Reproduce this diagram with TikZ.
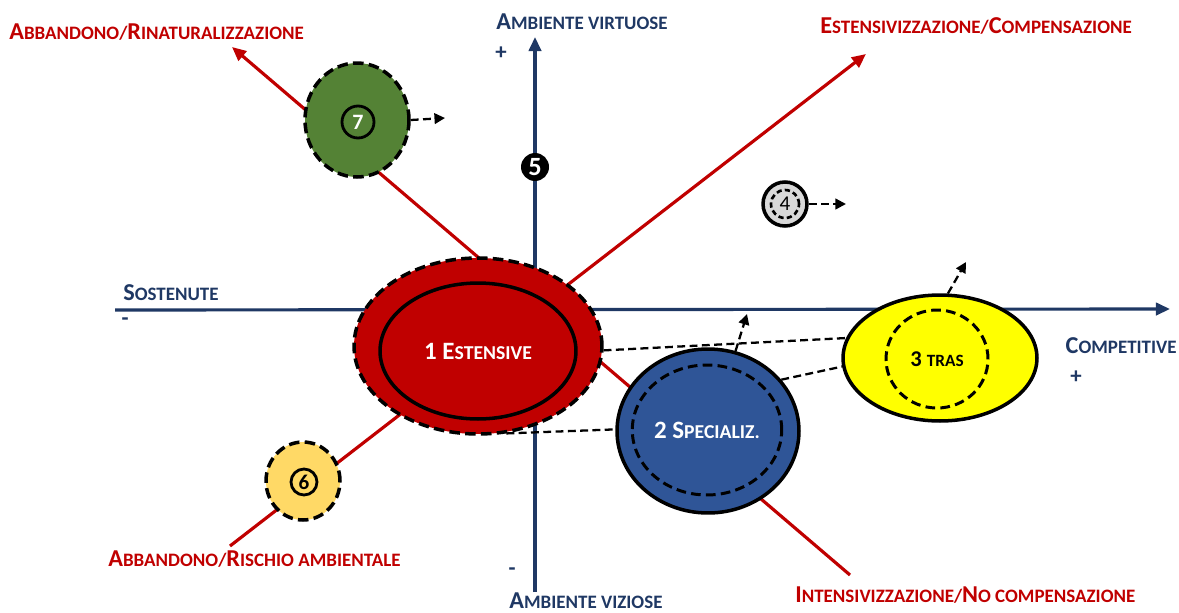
\documentclass[tikz,border=0pt]{standalone}
\usepackage{fontspec}
\setmainfont{Carlito}
\usetikzlibrary{arrows.meta,shapes.geometric}
\definecolor{axisblue}{HTML}{1F3864}
\definecolor{lred}{HTML}{C00000}
\definecolor{ell2}{HTML}{2F5597}
\definecolor{ell7}{HTML}{548235}
\definecolor{ell6}{HTML}{FFD966}
\definecolor{ell4}{HTML}{D9D9D9}
\definecolor{ell3}{HTML}{FFFF00}
\newcommand{\Bg}[1]{{\fontsize{13.8}{16}\selectfont #1}}
\newcommand{\Sm}[1]{{\fontsize{10.8}{13}\selectfont #1}}
\newcommand{\Bgi}[1]{{\fontsize{14.2}{16}\selectfont #1}}
\newcommand{\Smi}[1]{{\fontsize{11.2}{13}\selectfont #1}}
\tikzset{
  axisline/.style={draw=axisblue, line width=1.8pt, -{Triangle[length=8pt,width=7pt]}},
  redline/.style={draw=lred, line width=1.8pt},
  redarrow/.style={redline, -{Triangle[length=8pt,width=7pt]}},
  axlabel/.style={text=axisblue, font=\bfseries, inner sep=0pt, anchor=base west},
  redlabel/.style={text=lred, font=\bfseries, inner sep=0pt, anchor=base west},
  sign/.style={text=axisblue, font=\bfseries\fontsize{13}{15}\selectfont, inner sep=0pt},
  blob/.style={ellipse, inner sep=0pt, line width=2pt},
  dashblob/.style={blob, draw=black, dash pattern=on 6pt off 3pt},
  solidblob/.style={blob, draw=black},
  innerdash/.style={ellipse, inner sep=0pt, draw=black, line width=1.7pt, dash pattern=on 5.5pt off 3pt},
  innersolid/.style={circle, inner sep=0pt, draw=black, line width=1.6pt},
  dashconn/.style={draw=black, line width=1.3pt, dash pattern=on 4.5pt off 2.5pt},
  dasharrow/.style={dashconn, -{Triangle[length=6pt,width=6pt]}},
}
\begin{document}
\begin{tikzpicture}[x=0.02cm,y=-0.02cm]
\useasboundingbox (0,0) rectangle (1179,612);
% axes
\coordinate (hx0) at (115,310);
\coordinate (hx1) at (1170,309);
\coordinate (vy0) at (535,592);
\coordinate (vy1) at (535,37);
\draw[axisline] (hx0) -- (hx1);
\draw[axisline] (vy0) -- (vy1);
% red lines
\coordinate (ra0) at (850,575);
\coordinate (ra1) at (232,47);
\coordinate (rb0) at (230,546);
\coordinate (rb1) at (866,54);
\draw[redarrow] (ra0) -- (ra1);
\draw[redarrow] (rb0) -- (rb1);
% axis labels
\node[axlabel] (lvirt) at (496,30) {\Bg{A}\Sm{MBIENTE VIRTUOSE}};
\node[sign] (pvirt) at (501,53) {+};
\node[axlabel] (lsost) at (123,300) {\Bg{S}\Sm{OSTENUTE}};
\node[sign] (msost) at (125,322) {-};
\node[axlabel, anchor=base east] (lcomp) at (1177,353) {\Bg{C}\Sm{OMPETITIVE}};
\node[sign] (pcomp) at (1076,377) {+};
\node[axlabel] (lviz) at (509,608) {\Bg{A}\Sm{MBIENTE VIZIOSE}};
\node[sign] (mviz) at (512,572) {-};
% red labels
\node[redlabel] (lrin) at (9,39) {\Bg{A}\Sm{BBANDONO/}\Bg{R}\Sm{INATURALIZZAZIONE}};
\node[redlabel] (lest) at (820,33) {\Bg{E}\Sm{STENSIVIZZAZIONE/}\Bg{C}\Sm{OMPENSAZIONE}};
\node[redlabel] (lris) at (108,566) {\Bg{A}\Sm{BBANDONO/}\Bg{R}\Sm{ISCHIO AMBIENTALE}};
\node[redlabel] (lint) at (795,602) {\Bg{I}\Sm{NTENSIVIZZAZIONE/}\Bg{N}\Sm{O COMPENSAZIONE}};
% ellipse 1
\node[dashblob, fill=lred, minimum width=4.96cm, minimum height=3.52cm] (e1o) at (478,346) {};
\node[ellipse, inner sep=0pt, draw=black, line width=2pt, minimum width=3.92cm, minimum height=2.72cm, text=white, font=\bfseries] (e1i) at (478,351) {\Bgi{1 E}\Smi{STENSIVE}};
% ellipse 2
\node[solidblob, fill=ell2, minimum width=3.64cm, minimum height=3.28cm] (e2o) at (708,431) {};
\node[innerdash, minimum width=2.68cm, minimum height=2.6cm, text=white, font=\bfseries] (e2i) at (707,430) {\Bgi{2 S}\Smi{PECIALIZ.}};
% ellipse 3
\node[solidblob, fill=ell3, minimum width=3.88cm, minimum height=2.52cm] (e3o) at (940,358) {};
\node[innerdash, minimum width=2.04cm, minimum height=1.96cm, font=\bfseries] (e3i) at (937,359) {{\fontsize{12.8}{14}\selectfont 3 }{\fontsize{9.8}{12}\selectfont TRAS}};
% circle 7
\node[dashblob, fill=ell7, minimum width=2.08cm, minimum height=2.28cm] (c7o) at (357,120) {};
\node[innersolid, minimum size=0.64cm, text=white, font=\bfseries\fontsize{12.5}{14}\selectfont] (c7i) at (358,122) {7};
% circle 4
\node[solidblob, fill=ell4, minimum width=0.88cm, minimum height=0.88cm] (c4o) at (785,204) {};
\node[innerdash, line width=1.5pt, dash pattern=on 3pt off 1.8pt, minimum width=0.56cm, minimum height=0.56cm, font=\fontsize{12}{13}\selectfont] (c4i) at (785,204) {4};
% circle 5
\node[circle, fill=black, inner sep=0pt, minimum size=0.56cm, text=white, font=\bfseries\fontsize{15}{16}\selectfont] (c5) at (535,167) {5};
% circle 6
\node[dashblob, fill=ell6, minimum width=1.48cm, minimum height=1.56cm] (c6o) at (303,481) {};
\node[innersolid, minimum size=0.52cm, font=\bfseries\fontsize{12}{13}\selectfont] (c6i) at (304,482) {6};
% dashed connectors
\draw[dashconn] (e1o.-2) -- (e3o.168);
\draw[dashconn] (e2o.35) -- (e3o.185);
\draw[dashconn] (e1o.-72) -- (e2o.179);
\coordinate (a2) at (747,314);
\coordinate (a3) at (966,262);
\coordinate (a7) at (445,118);
\coordinate (a4) at (846,204);
\draw[dasharrow] (e2o.71) -- (a2);
\draw[dasharrow] (e3o.83) -- (a3);
\draw[dasharrow] (c7o.east) -- (a7);
\draw[dasharrow] (c4o.east) -- (a4);
\end{tikzpicture}
\end{document}
